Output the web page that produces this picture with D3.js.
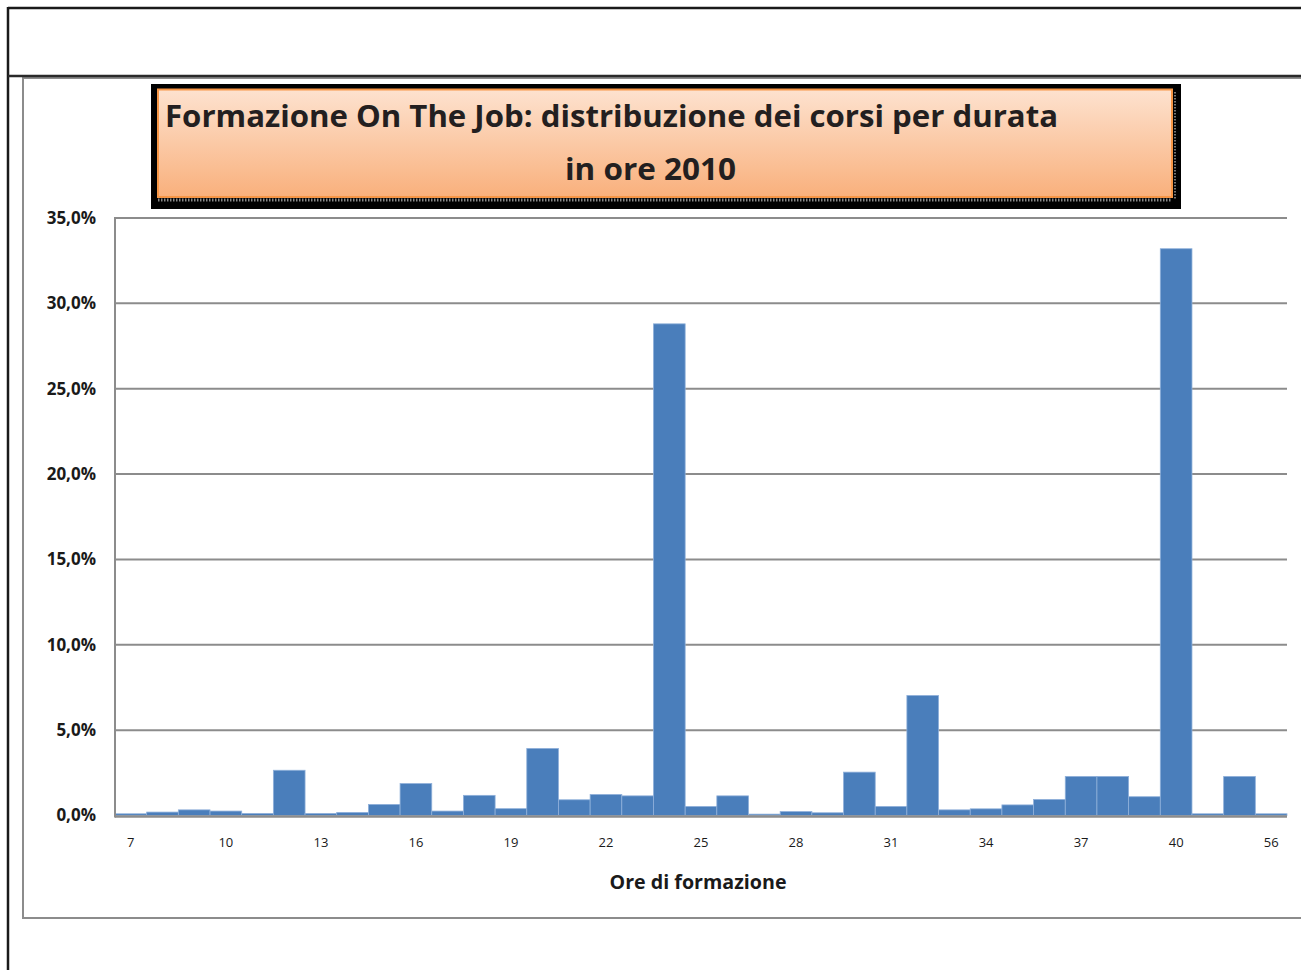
<!DOCTYPE html>
<html>
<head>
<meta charset="utf-8">
<script src="https://cdn.jsdelivr.net/npm/d3@7"></script>
<style>
  html, body { margin: 0; padding: 0; background: #fff; }
  svg { display: block; }
</style>
</head>
<body>
<svg id="chart" width="1301" height="970"></svg>
<script>
// ---- data ----
const titleLines = ["Formazione On The Job: distribuzione dei corsi per durata", "in ore 2010"];
const xAxisTitle = "Ore di formazione";
const categories = ["7","8","9","10","11","12","13","14","15","16","17","18","19","20","21","22","23","24","25","26","27","28","29","30","31","32","33","34","35","36","37","38","39","40","42","48","56"];
const values = [0.10,0.20,0.33,0.26,0.12,2.65,0.12,0.18,0.65,1.87,0.26,1.18,0.40,3.93,0.92,1.23,1.15,28.8,0.53,1.15,0.08,0.23,0.16,2.54,0.53,7.03,0.33,0.39,0.62,0.94,2.29,2.29,1.10,33.2,0.10,2.29,0.10];
const yTicks = [0,5,10,15,20,25,30,35];
const xTickLabels = ["7","10","13","16","19","22","25","28","31","34","37","40","56"];

const svg = d3.select("#chart");
const font = "'Open Sans', 'DejaVu Sans', sans-serif";

// ---- page frame ----
svg.append("line").attr("x1",8).attr("x2",1301).attr("y1",8).attr("y2",8).attr("stroke","#1a1a1a").attr("stroke-width",2.5);
svg.append("line").attr("x1",8).attr("x2",8).attr("y1",7).attr("y2",970).attr("stroke","#1a1a1a").attr("stroke-width",2.5);
// chart area border
svg.append("rect").attr("x",23).attr("y",78).attr("width",1290).attr("height",840)
  .attr("fill","#fff").attr("stroke","#8c8c8c").attr("stroke-width",2);
svg.append("line").attr("x1",8).attr("x2",1301).attr("y1",76).attr("y2",76).attr("stroke","#2a2a2a").attr("stroke-width",2.5);

// ---- scales ----
const x = d3.scaleBand().domain(categories).range([115, 1287]).padding(0);
const y = d3.scaleLinear().domain([0, 35]).range([815.5, 218]);

// gridlines
const grid = svg.append("g").attr("class","grid");
grid.selectAll("line").data(yTicks.filter(d => d > 0)).join("line")
  .attr("x1",115).attr("x2",1287)
  .attr("y1",d => y(d)).attr("y2",d => y(d))
  .attr("stroke","#8c8c8c").attr("stroke-width",2);

// bars
svg.append("g").selectAll("rect").data(categories).join("rect")
  .attr("x", d => x(d))
  .attr("width", x.bandwidth())
  .attr("y", (d,i) => y(values[i]))
  .attr("height", (d,i) => y(0) - y(values[i]))
  .attr("fill","#4a7ebb")
  .attr("stroke","#8fb0da").attr("stroke-width",0.8);

// axes lines
svg.append("line").attr("x1",115).attr("x2",1287).attr("y1",y(0)+1).attr("y2",y(0)+1).attr("stroke","#8c8c8c").attr("stroke-width",2.5);
svg.append("line").attr("x1",115).attr("x2",115).attr("y1",y(35)-1).attr("y2",y(0)+2).attr("stroke","#8c8c8c").attr("stroke-width",2);

// y axis labels
const yAxis = d3.axisLeft(y).tickValues(yTicks).tickSize(0).tickPadding(19)
  .tickFormat(d => d.toFixed(1).replace(".", ",") + "%");
const gy = svg.append("g").attr("transform","translate(115,0)").call(yAxis);
gy.select(".domain").remove();
gy.selectAll("text").attr("font-family",font).attr("font-weight","bold").attr("font-size",17).attr("fill","#1a1a1a");

// x axis labels
const xAxis = d3.axisBottom(x).tickSize(0).tickPadding(22)
  .tickValues(categories.filter(c => xTickLabels.includes(c)));
const gx = svg.append("g").attr("transform",`translate(0,${y(0)})`).call(xAxis);
gx.select(".domain").remove();
gx.selectAll("text").attr("font-family",font).attr("font-size",13).attr("fill","#1a1a1a");

// x axis title
svg.append("text").attr("x",698).attr("y",889).attr("text-anchor","middle")
  .attr("font-family",font).attr("font-weight","bold").attr("font-size",20).attr("fill","#1a1a1a")
  .attr("textLength",177).attr("lengthAdjust","spacingAndGlyphs")
  .text(xAxisTitle);

// ---- title box ----
const defs = svg.append("defs");
const grad = defs.append("linearGradient").attr("id","tg").attr("x1",0).attr("x2",0).attr("y1",0).attr("y2",1);
grad.append("stop").attr("offset","0%").attr("stop-color","#fde2cf");
grad.append("stop").attr("offset","100%").attr("stop-color","#f9b07c");

svg.append("rect").attr("x",151).attr("y",84).attr("width",1030).attr("height",125).attr("fill","#000");
svg.append("line").attr("x1",158).attr("x2",1172).attr("y1",200).attr("y2",200)
  .attr("stroke","#888").attr("stroke-width",3).attr("stroke-dasharray","1.5,1.5");
svg.append("line").attr("x1",1175).attr("x2",1175).attr("y1",92).attr("y2",200)
  .attr("stroke","#777").attr("stroke-width",2).attr("stroke-dasharray","1.5,1.5");
svg.append("rect").attr("x",158).attr("y",89.5).attr("width",1014).attr("height",107.5)
  .attr("fill","url(#tg)").attr("stroke","#f79646").attr("stroke-width",2);

svg.append("text").attr("x",165).attr("y",127)
  .attr("font-family",font).attr("font-weight","bold").attr("font-size",30).attr("fill","#231f20")
  .attr("textLength",893).attr("lengthAdjust","spacingAndGlyphs")
  .text(titleLines[0]);
svg.append("text").attr("x",565).attr("y",180)
  .attr("font-family",font).attr("font-weight","bold").attr("font-size",30).attr("fill","#231f20")
  .attr("textLength",171).attr("lengthAdjust","spacingAndGlyphs")
  .text(titleLines[1]);
</script>
</body>
</html>
